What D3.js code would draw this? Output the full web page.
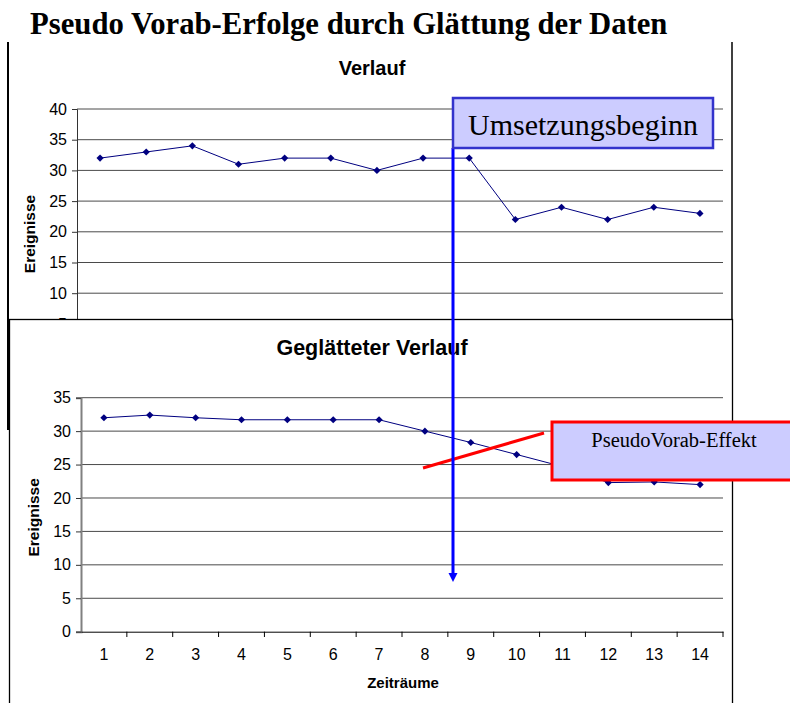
<!DOCTYPE html>
<html>
<head>
<meta charset="utf-8">
<script src="https://cdn.jsdelivr.net/npm/d3@7"></script>
<style>
  body { margin: 0; background: #fff; }
  svg { display: block; }
</style>
</head>
<body>
<div id="chart-container"></div>
<script>
const periods = [1, 2, 3, 4, 5, 6, 7, 8, 9, 10, 11, 12, 13, 14]
const rawValues = [32, 33, 34, 31, 32, 32, 30, 32, 32, 22, 24, 22, 24, 23]
const smoothValues = [32, 32.4, 32, 31.7, 31.7, 31.7, 31.7, 30, 28.3, 26.5, 24.7, 22.3, 22.4, 22]
const topTicks = [0, 5, 10, 15, 20, 25, 30, 35, 40]
const bottomTicks = [0, 5, 10, 15, 20, 25, 30, 35]

function draw () {
  const width = 790
  const height = 703
  const navy = '#000080'
  const sans = 'Liberation Sans, Arial, sans-serif'
  const serif = 'Liberation Serif, Times New Roman, serif'

  const svg = d3.select('#chart-container')
    .append('svg')
    .attr('width', width)
    .attr('height', height)

  // main heading
  svg.append('text')
    .attr('x', 30).attr('y', 34)
    .style('font-family', serif).style('font-weight', 'bold').style('font-size', '30.7px')
    .text('Pseudo Vorab-Erfolge durch Glättung der Daten')

  const diamond = 'M0,-3.6L3.6,0L0,3.6L-3.6,0Z'

  function panel (g, values, ticks, box) {
    const x = d3.scaleBand().domain(periods).range([box.left, box.right])
    const y = d3.scaleLinear().domain([0, d3.max(ticks)]).range([box.bottom, box.top])

    g.append('g')
      .selectAll('line')
      .data(ticks.filter(t => t > 0))
      .enter()
      .append('line')
      .attr('x1', box.left).attr('x2', box.right)
      .attr('y1', d => y(d)).attr('y2', d => y(d))
      .attr('stroke', '#4a4a4a').attr('stroke-width', 1)

    const yAxis = g.append('g')
      .attr('transform', `translate(${box.left},0)`)
      .call(d3.axisLeft(y).tickValues(ticks).tickSize(5).tickPadding(5))
    yAxis.select('.domain').attr('stroke', box.axisColor).attr('stroke-width', box.axisWidth)
    yAxis.selectAll('.tick line').attr('stroke', '#333')
    yAxis.selectAll('text')
      .style('font-family', sans).style('font-size', '16px').attr('fill', '#000')

    g.append('path')
      .datum(values)
      .attr('fill', 'none')
      .attr('stroke', navy)
      .attr('stroke-width', 1)
      .attr('d', d3.line()
        .x((d, i) => x(periods[i]) + x.bandwidth() / 2)
        .y(d => y(d)))

    g.selectAll('.pt')
      .data(values)
      .enter()
      .append('path')
      .attr('class', 'pt')
      .attr('d', diamond)
      .attr('fill', navy)
      .attr('transform', (d, i) => `translate(${x(periods[i]) + x.bandwidth() / 2},${y(d)})`)

    g.append('text')
      .attr('transform', `translate(${box.yTitleX},${(box.top + box.bottom0) / 2}) rotate(-90)`)
      .attr('text-anchor', 'middle')
      .style('font-family', sans).style('font-weight', 'bold').style('font-size', '15.5px')
      .text('Ereignisse')

    return { x, y }
  }

  // top chart "Verlauf"
  const top = svg.append('g')
  top.append('text')
    .attr('x', 372).attr('y', 75)
    .attr('text-anchor', 'middle')
    .style('font-family', sans).style('font-weight', 'bold').style('font-size', '20px')
    .text('Verlauf')
  panel(top, rawValues, topTicks, {
    left: 77, right: 723, top: 109, bottom: 354.6, bottom0: 359,
    axisColor: '#333', axisWidth: 1, yTitleX: 35
  })
  top.append('line')
    .attr('x1', 732).attr('x2', 732).attr('y1', 42).attr('y2', 319)
    .attr('stroke', '#000').attr('stroke-width', 1.5)

  // bottom chart box covers the lower part of the top chart
  const bottom = svg.append('g')
  bottom.append('rect')
    .attr('x', 9.5).attr('y', 319.5).attr('width', 723).attr('height', 400)
    .attr('fill', '#fff').attr('stroke', '#000').attr('stroke-width', 1.3)
  bottom.append('text')
    .attr('x', 372).attr('y', 355)
    .attr('text-anchor', 'middle')
    .style('font-family', sans).style('font-weight', 'bold').style('font-size', '21.5px')
    .text('Geglätteter Verlauf')

  const sc = panel(bottom, smoothValues, bottomTicks, {
    left: 81, right: 723, top: 397.7, bottom: 631.7, bottom0: 637,
    axisColor: '#808080', axisWidth: 2, yTitleX: 39
  })

  const xAxis = bottom.append('g')
    .attr('transform', 'translate(0,631.7)')
    .call(d3.axisBottom(sc.x).tickSize(0).tickPadding(17))
  xAxis.select('.domain').attr('stroke', '#000')
  xAxis.selectAll('text')
    .style('font-family', sans).style('font-size', '16px').attr('fill', '#000')
  // tick marks between the periods
  bottom.append('g')
    .selectAll('line')
    .data(periods.slice(1).concat([null]))
    .enter()
    .append('line')
    .attr('x1', d => d === null ? sc.x.range()[1] : sc.x(d))
    .attr('x2', d => d === null ? sc.x.range()[1] : sc.x(d))
    .attr('y1', 631.7).attr('y2', 637)
    .attr('stroke', '#000')

  bottom.append('text')
    .attr('x', 403).attr('y', 688)
    .attr('text-anchor', 'middle')
    .style('font-family', sans).style('font-weight', 'bold').style('font-size', '15px')
    .text('Zeiträume')

  // top chart frame, left edge runs past the bottom box top
  svg.append('line')
    .attr('x1', 8).attr('x2', 8).attr('y1', 42).attr('y2', 430)
    .attr('stroke', '#000').attr('stroke-width', 2)

  // annotations
  svg.append('line')
    .attr('x1', 423).attr('y1', 468).attr('x2', 544).attr('y2', 433)
    .attr('stroke', '#ff0000').attr('stroke-width', 3)

  svg.append('rect')
    .attr('x', 552).attr('y', 422).attr('width', 260).attr('height', 58)
    .attr('fill', '#ccccff').attr('stroke', '#ff0000').attr('stroke-width', 3)
  svg.append('text')
    .attr('x', 674).attr('y', 447)
    .attr('text-anchor', 'middle')
    .style('font-family', serif).style('font-size', '20.5px')
    .text('PseudoVorab-Effekt')

  svg.append('line')
    .attr('x1', 453).attr('x2', 453).attr('y1', 148).attr('y2', 575)
    .attr('stroke', '#0000ff').attr('stroke-width', 3)
  svg.append('path')
    .attr('d', 'M448.5,573L457.5,573L453,582Z')
    .attr('fill', '#0000ff')

  svg.append('rect')
    .attr('x', 453).attr('y', 98).attr('width', 260).attr('height', 50)
    .attr('fill', '#ccccff').attr('stroke', '#3333cc').attr('stroke-width', 2.5)
  svg.append('text')
    .attr('x', 583).attr('y', 135)
    .attr('text-anchor', 'middle')
    .style('font-family', serif).style('font-size', '30px')
    .text('Umsetzungsbeginn')
}

draw()
</script>
</body>
</html>
